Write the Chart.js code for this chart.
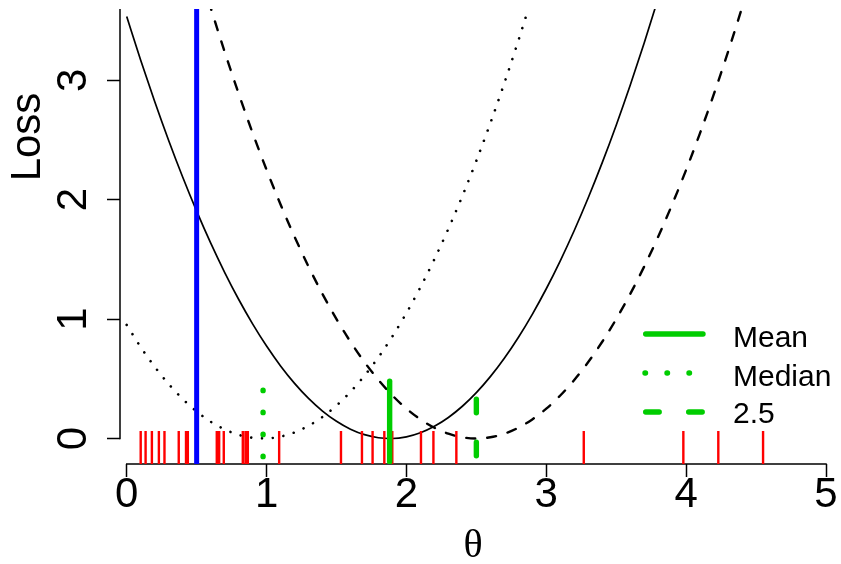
<!DOCTYPE html>
<html><head><meta charset="utf-8">
<script src="https://cdn.jsdelivr.net/npm/chart.js@4.4.1/dist/chart.umd.min.js"></script>
<style>html,body{margin:0;padding:0;background:#fff;}#wrap{width:841px;height:564px;position:relative;}</style>
</head><body><div id="wrap"><canvas id="c"></canvas></div>
<script>
// ---- data ----
const xTickLabels = [0, 1, 2, 3, 4, 5];
const yTickLabels = [0, 1, 2, 3];

const meanTheta = [0,0.1,0.2,0.3,0.4,0.5,0.6,0.7,0.8,0.9,1.0,1.1,1.2,1.3,1.4,1.5,1.6,1.7,1.8,1.9,2.0,2.1,2.2,2.3,2.4,2.5,2.6,2.7,2.8,2.9,3.0,3.1,3.2,3.3,3.4,3.5,3.6,3.7,3.8];
const meanLoss  = [3.534,3.168,2.822,2.496,2.190,1.904,1.638,1.392,1.166,0.960,0.774,0.608,0.462,0.336,0.230,0.144,0.078,0.032,0.006,0.000,0.014,0.048,0.102,0.176,0.270,0.384,0.518,0.672,0.846,1.040,1.254,1.488,1.742,2.016,2.310,2.624,2.958,3.312,3.686];

const medianTheta = [0,0.1,0.2,0.3,0.4,0.5,0.6,0.7,0.8,0.9,1.0,1.1,1.2,1.3,1.4,1.5,1.6,1.7,1.8,1.9,2.0,2.1,2.2,2.3,2.4,2.5,2.6,2.7,2.8,2.9];
const medianLoss  = [0.951,0.766,0.601,0.456,0.331,0.226,0.141,0.076,0.031,0.006,0.001,0.016,0.051,0.106,0.181,0.276,0.391,0.526,0.681,0.856,1.051,1.266,1.501,1.756,2.031,2.326,2.641,2.976,3.331,3.706];

const fixedTheta = [0.5,0.6,0.7,0.8,0.9,1.0,1.1,1.2,1.3,1.4,1.5,1.6,1.7,1.8,1.9,2.0,2.1,2.2,2.3,2.4,2.5,2.6,2.7,2.8,2.9,3.0,3.1,3.2,3.3,3.4,3.5,3.6,3.7,3.8,3.9,4.0,4.1,4.2,4.3,4.4,4.5];
const fixedLoss  = [4.00,3.61,3.24,2.89,2.56,2.25,1.96,1.69,1.44,1.21,1.00,0.81,0.64,0.49,0.36,0.25,0.16,0.09,0.04,0.01,0.00,0.01,0.04,0.09,0.16,0.25,0.36,0.49,0.64,0.81,1.00,1.21,1.44,1.69,1.96,2.25,2.56,2.89,3.24,3.61,4.00];

const rugValues = [0.10,0.135,0.18,0.23,0.27,0.372,0.424,0.437,0.644,0.661,0.694,0.830,0.849,0.866,1.090,1.532,1.682,1.758,1.842,1.899,2.104,2.193,2.357,3.268,3.98,4.23,4.55];

const blueTheta = [0.5];
const markerNames  = ['Mean', 'Median', '2.5'];
const markerValues = [1.88, 0.975, 2.5];

// ---- layout / style ----
const X_MIN = -0.048, X_MAX = 5, Y_MIN = -0.2136, Y_MAX = 3.597;
const GREEN = '#00CD00', RED = '#FF0000', BLUE = '#0000FF';
const FONT = "'Liberation Sans', Arial, Helvetica, sans-serif";

const pts = (xs, ys) => xs.map((x, i) => ({x, y: ys[i]}));
const rugData = [];
rugValues.forEach(v => { rugData.push({x: v, y: Y_MIN}, {x: v, y: 0.062}, {x: v, y: null}); });

const markerStyles = [
  {dash: [], cap: 'round', y0: -0.195, y1: 0.48},
  {dash: [0.5, 21.5], cap: 'round', y0: -0.152, y1: 0.48},
  {dash: [13.5, 29.5], cap: 'round', y0: -0.145, y1: 0.48}
];

const datasets = [];
markerValues.forEach((v, i) => {
  const s = markerStyles[i];
  datasets.push({label: markerNames[i], data: [{x: v, y: s.y0}, {x: v, y: s.y1}],
    borderColor: GREEN, borderWidth: 5.4, borderDash: s.dash, borderCapStyle: s.cap,
    pointRadius: 0, tension: 0, order: 1});
});
datasets.push({label: 'blue', data: [{x: blueTheta[0], y: Y_MIN}, {x: blueTheta[0], y: Y_MAX}],
  borderColor: BLUE, borderWidth: 5, pointRadius: 0, tension: 0, order: 2});
datasets.push({label: 'rug', data: rugData, borderColor: RED, borderWidth: 2.4,
  pointRadius: 0, tension: 0, spanGaps: false, order: 3});
datasets.push({label: 'meanLoss', data: pts(meanTheta, meanLoss), borderColor: '#000', borderWidth: 1.7,
  pointRadius: 0, cubicInterpolationMode: 'monotone', order: 4});
datasets.push({label: 'medianLoss', data: pts(medianTheta, medianLoss), borderColor: '#000', borderWidth: 2.6,
  borderDash: [0.01, 10.8], borderCapStyle: 'round', pointRadius: 0, cubicInterpolationMode: 'monotone', order: 4});
datasets.push({label: 'fixedLoss', data: pts(fixedTheta, fixedLoss), borderColor: '#000', borderWidth: 2.4,
  borderDash: [9, 12], borderCapStyle: 'round', pointRadius: 0, cubicInterpolationMode: 'monotone', order: 4});

const rAxes = {
  id: 'rAxes',
  beforeDatasetsDraw(chart) {
    const {ctx, scales: {x, y}, chartArea} = chart;
    ctx.save();
    ctx.strokeStyle = '#000'; ctx.lineWidth = 1.5; ctx.setLineDash([]);
    ctx.beginPath();
    ctx.moveTo(x.getPixelForValue(xTickLabels[0]) - 0.75, chartArea.bottom);
    ctx.lineTo(x.getPixelForValue(xTickLabels[xTickLabels.length - 1]) + 0.75, chartArea.bottom);
    ctx.moveTo(chartArea.left, y.getPixelForValue(yTickLabels[0]) + 0.75);
    ctx.lineTo(chartArea.left, chartArea.top);
    ctx.stroke();
    ctx.restore();
  },
  afterDraw(chart) {
    const {ctx} = chart;
    ctx.save();
    ctx.fillStyle = '#000';
    ctx.font = '42px ' + FONT;
    ctx.translate(28.7, 137);
    ctx.rotate(-Math.PI / 2);
    ctx.textAlign = 'center'; ctx.textBaseline = 'middle';
    ctx.fillText('Loss', 0, 0);
    ctx.restore();
    ctx.save();
    const rows = [347, 385.5, 423];
    const lineY = [334, 373, 412];
    ctx.strokeStyle = GREEN; ctx.lineWidth = 5.4; ctx.lineCap = 'round';
    markerNames.forEach((name, i) => {
      const s = markerStyles[i];
      ctx.setLineDash(s.dash);
      ctx.beginPath();
      const x0 = i === 1 ? 645 : 645.7;
      ctx.moveTo(x0, lineY[i]); ctx.lineTo(703, lineY[i]);
      ctx.stroke();
      ctx.setLineDash([]);
      ctx.fillStyle = '#000'; ctx.font = '30px ' + FONT;
      ctx.textAlign = 'left'; ctx.textBaseline = 'alphabetic';
      ctx.fillText(name, 733, rows[i]);
    });
    ctx.restore();
  }
};

Chart.defaults.font.family = FONT;
Chart.defaults.color = '#000';

new Chart(document.getElementById('c'), {
  type: 'line',
  data: {datasets},
  options: {
    responsive: true, maintainAspectRatio: false, animation: false,
    layout: {padding: {left: 0, right: 15, top: 9, bottom: 0}},
    plugins: {legend: {display: false}, tooltip: {enabled: false}},
    scales: {
      x: {
        type: 'linear', min: X_MIN, max: X_MAX,
        afterBuildTicks: s => { s.ticks = xTickLabels.map(v => ({value: v})); },
        afterFit: s => { s.height = 100; s.paddingLeft = 0; s.paddingRight = 0; s.paddingTop = 0; s.paddingBottom = 0; },
        ticks: {font: {size: 42, lineHeight: 1}, color: '#000', padding: -3, maxRotation: 0, autoSkip: false,
          callback: v => String(v)},
        grid: {display: true, drawOnChartArea: false, drawTicks: true, tickLength: 13, tickColor: '#000', tickWidth: 1.5},
        border: {display: false},
        title: {display: true, text: 'θ', color: '#000',
          font: {family: "'Liberation Serif', 'DejaVu Serif', serif", size: 40, lineHeight: 1},
          padding: {top: 0, bottom: -2.5}}
      },
      y: {
        type: 'linear', min: Y_MIN, max: Y_MAX,
        afterBuildTicks: s => { s.ticks = yTickLabels.map(v => ({value: v})); },
        afterFit: s => { s.width = 120; s.paddingLeft = 0; s.paddingRight = 0; s.paddingTop = 0; s.paddingBottom = 0; },
        ticks: {font: {size: 42, lineHeight: 1}, color: '#000', padding: 21, minRotation: 90, maxRotation: 90,
          crossAlign: 'center', autoSkip: false, callback: v => String(v)},
        grid: {display: true, drawOnChartArea: false, drawTicks: true, tickLength: 13, tickColor: '#000', tickWidth: 1.5},
        border: {display: false}
      }
    }
  },
  plugins: [rAxes]
});
</script></body></html>
